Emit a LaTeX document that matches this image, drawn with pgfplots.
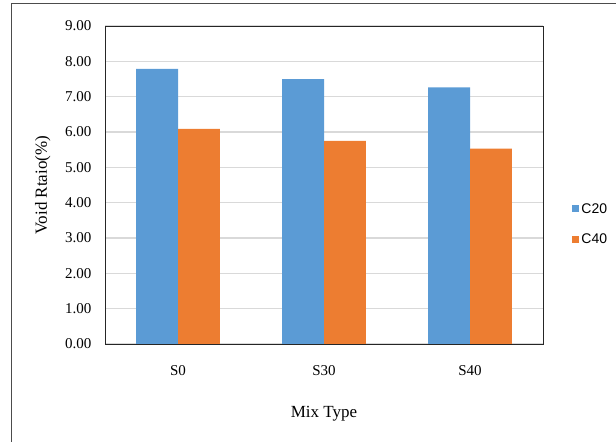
\documentclass[border=0pt]{standalone}
\usepackage{fontspec}
\setmainfont{Liberation Serif}
\newfontfamily\arialf{Liberation Sans}
\usepackage{pgfplots}
\pgfplotsset{compat=1.18}
\definecolor{cblue}{HTML}{5B9BD5}
\definecolor{corange}{HTML}{ED7D31}
\definecolor{gridc}{HTML}{D9D9D9}
\begin{document}
\begin{tikzpicture}
\path[use as bounding box] (0,0) rectangle (616bp,442bp);
\draw[black!70, line width=1bp] (11bp,0) -- (11bp,438bp) -- (616bp,438bp);
\begin{axis}[
  at={(105bp,98bp)}, anchor=south west,
  scale only axis, width=438bp, height=318bp,
  ybar=0pt, bar width=0.286, 
  xmin=-0.5, xmax=2.5, ymin=0, ymax=9,
  xtick={0,1,2}, xticklabels={S0,S30,S40},
  ytick={0,1,...,9},
  yticklabel={\pgfmathprintnumber[fixed,fixed zerofill,precision=2]{\tick}},
  /pgf/number format/assume math mode=true,
  major tick length=0pt,
  ymajorgrids, grid style={gridc, line width=1.2bp},
  axis line style={black!85, line width=0.9bp},
  tick label style={font=\fontsize{15bp}{17bp}\selectfont},
  x tick label style={yshift=-18bp},
  y tick label style={xshift=-10bp},
  xlabel={Mix Type}, ylabel={Void Rtaio(\%)},
  label style={font=\fontsize{17bp}{19bp}\selectfont},
  xlabel style={yshift=-24bp},
  ylabel style={yshift=8bp},
  legend style={at={(1.06,0.377)}, anchor=west, draw=none, fill=none,
    font=\arialf\fontsize{14bp}{16bp}\selectfont, row sep=15bp},
  legend cell align=left,
  legend image code/.code={\fill[#1] (0bp,-3.5bp) rectangle (7bp,3.5bp);},
]
\addplot[fill=cblue, draw=none] coordinates {(0,7.79) (1,7.50) (2,7.26)};
\addplot[fill=corange, draw=none] coordinates {(0,6.09) (1,5.75) (2,5.53)};
\legend{C20,C40}
\end{axis}
\end{tikzpicture}
\end{document}
